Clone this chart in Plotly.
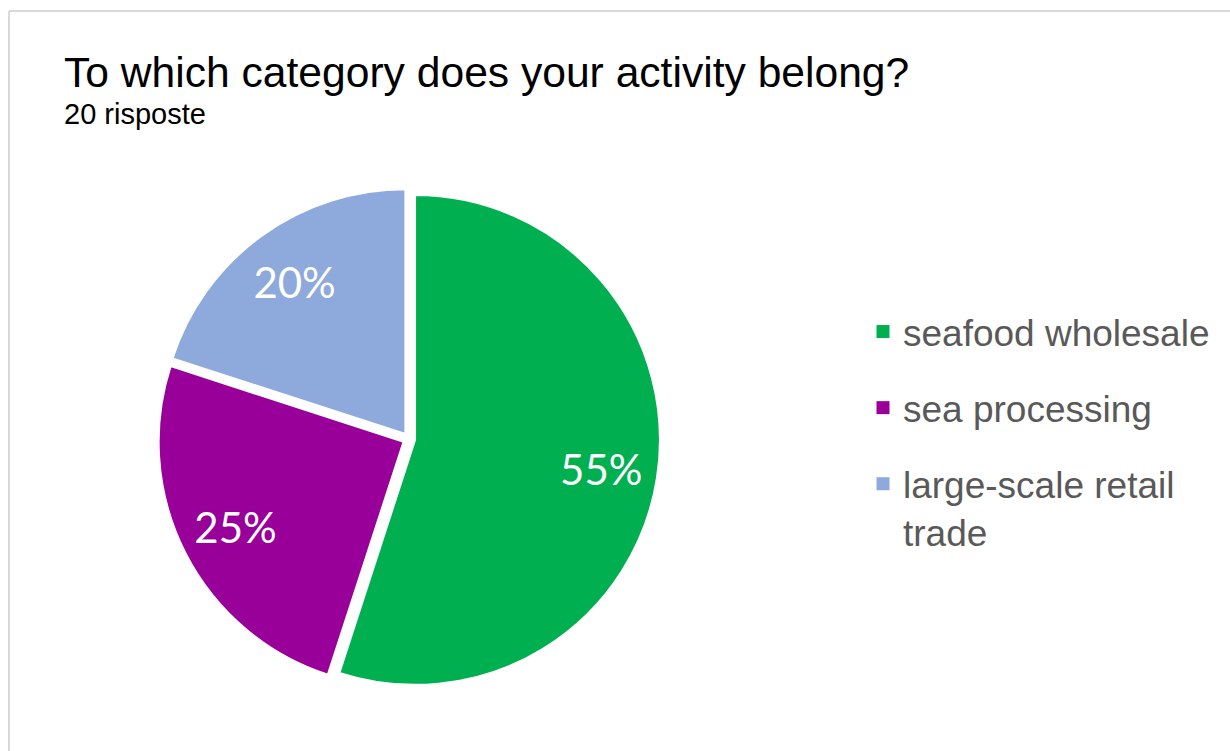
import plotly.graph_objects as go

# Survey answers: share of respondents per activity category
categories = ["seafood wholesale", "sea processing", "large-scale retail trade"]
legend_labels = ["seafood wholesale", "sea processing", "large-scale retail<br>trade"]
shares = [55, 25, 20]
colors = ["#00B050", "#990099", "#8EA9DB"]

title_text = "To which category does your activity belong?"
subtitle_text = "20 risposte"

W, H = 1230, 751
pie_domain = dict(x=[158 / W, 660 / W], y=[(H - 690) / H, (H - 188) / H])
pulls = [0.025, 0.025, 0.025]

fig = go.Figure()

# Filled slices
fig.add_trace(go.Pie(
    labels=categories,
    values=shares,
    sort=False,
    direction="clockwise",
    rotation=0,
    pull=pulls,
    marker=dict(colors=colors, line=dict(color="white", width=2)),
    textinfo="none",
    domain=pie_domain,
    showlegend=False,
    hoverinfo="label+percent",
))

# Transparent ring on top carrying the percentage labels, so they sit
# towards the outer part of each slice
fig.add_trace(go.Pie(
    labels=categories,
    values=shares,
    sort=False,
    direction="clockwise",
    rotation=0,
    pull=pulls,
    hole=0.54,
    marker=dict(colors=["rgba(0,0,0,0)"] * len(shares), line=dict(width=0)),
    texttemplate="%{value}%",
    textposition="inside",
    insidetextorientation="horizontal",
    textfont=dict(family="Lato", size=42, color="white"),
    domain=pie_domain,
    showlegend=False,
    hoverinfo="skip",
))

# Legend entries, one group each so the rows can be spaced apart
for i, (lab, col) in enumerate(zip(legend_labels, colors)):
    fig.add_trace(go.Scatter(
        x=[None], y=[None], mode="markers",
        marker=dict(symbol="square", size=13, color=col),
        name=lab, legendgroup=f"g{i}", showlegend=True,
    ))

fig.update_layout(
    width=W, height=H,
    margin=dict(l=0, r=0, t=0, b=0),
    paper_bgcolor="white",
    plot_bgcolor="white",
    xaxis=dict(visible=False),
    yaxis=dict(visible=False),
    showlegend=True,
    legend=dict(
        x=(903 - 40) / W, xanchor="left",
        y=1 - 301 / H, yanchor="top",
        font=dict(family="Liberation Sans, Arial", size=37, color="#595959"),
        tracegroupgap=25,
        valign="top",
        bgcolor="rgba(0,0,0,0)",
    ),
    annotations=[
        dict(text=title_text, x=62 / W, y=1 - 46 / H, xref="paper", yref="paper",
             xanchor="left", yanchor="top", showarrow=False,
             font=dict(family="Liberation Sans, Arial", size=42.6, color="black")),
        dict(text=subtitle_text, x=62 / W, y=1 - 96 / H, xref="paper", yref="paper",
             xanchor="left", yanchor="top", showarrow=False,
             font=dict(family="Liberation Sans, Arial", size=29, color="black")),
    ],
    shapes=[
        dict(type="line", xref="paper", yref="paper", x0=9 / W, x1=9 / W, y0=0, y1=1 - 11 / H,
             line=dict(color="#D9D9D9", width=2)),
        dict(type="line", xref="paper", yref="paper", x0=9 / W, x1=1, y0=1 - 11 / H, y1=1 - 11 / H,
             line=dict(color="#D9D9D9", width=2)),
    ],
)

fig.write_html("out.html")
